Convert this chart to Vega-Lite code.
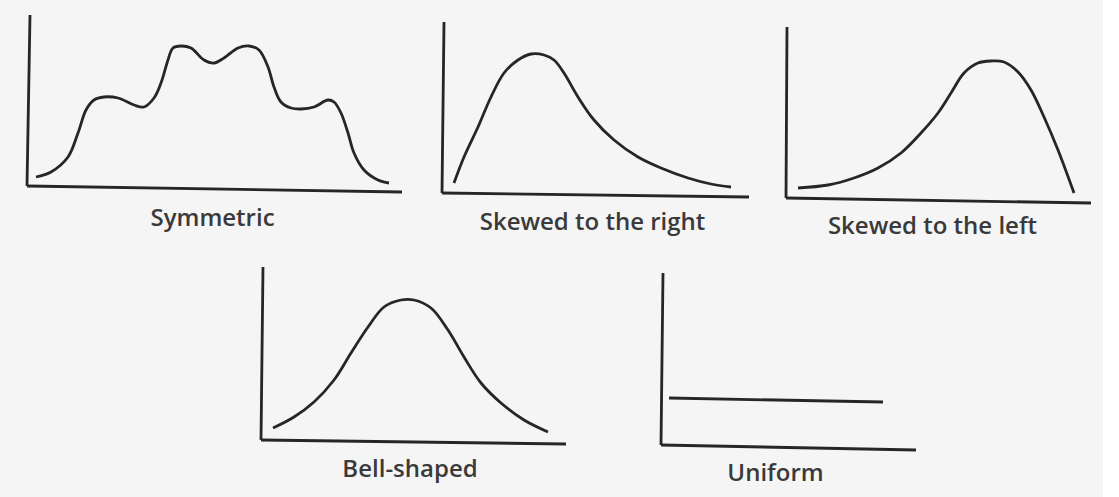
{
  "$schema": "https://vega.github.io/schema/vega-lite/v6.json",
  "background": "#f5f5f5",
  "padding": {"left": 25, "top": 12, "right": 10, "bottom": 15},
  "spacing": 24,
  "config": {
    "view": {"stroke": null},
    "axis": {"domain": false, "ticks": false, "labels": false, "grid": false, "titleFont": "Open Sans", "titleFontSize": 24, "titleFontWeight": 600, "titleColor": "#3a3a3a"}
  },
  "datasets": {
    "symAxes": [{"x": 1, "y": 18, "x2": 4, "y2": 189}, {"x": 1, "y": 18, "x2": 376, "y2": 12}],
    "sym": [
      {"x": 10, "y": 27}, {"x": 25, "y": 32}, {"x": 42, "y": 47}, {"x": 52, "y": 71}, {"x": 60, "y": 94}, {"x": 68, "y": 104}, {"x": 78, "y": 107}, {"x": 92, "y": 106}, {"x": 108, "y": 99}, {"x": 118, "y": 97}, {"x": 128, "y": 106}, {"x": 135, "y": 121}, {"x": 142, "y": 144}, {"x": 147, "y": 156}, {"x": 155, "y": 158}, {"x": 165, "y": 156}, {"x": 178, "y": 144}, {"x": 188, "y": 141}, {"x": 198, "y": 146}, {"x": 212, "y": 156}, {"x": 223, "y": 158}, {"x": 233, "y": 154}, {"x": 242, "y": 137}, {"x": 248, "y": 117}, {"x": 255, "y": 102}, {"x": 265, "y": 96}, {"x": 275, "y": 95}, {"x": 288, "y": 97}, {"x": 302, "y": 104}, {"x": 308, "y": 102}, {"x": 315, "y": 91}, {"x": 322, "y": 71}, {"x": 328, "y": 51}, {"x": 338, "y": 34}, {"x": 352, "y": 24}, {"x": 363, "y": 21}
    ],
    "rightAxes": [{"x": 0, "y": 11, "x2": 2, "y2": 182}, {"x": 0, "y": 11, "x2": 307, "y2": 7}],
    "right": [
      {"x": 12, "y": 21}, {"x": 22, "y": 47}, {"x": 36, "y": 77}, {"x": 49, "y": 107}, {"x": 62, "y": 131}, {"x": 76, "y": 144}, {"x": 89, "y": 150}, {"x": 102, "y": 149}, {"x": 112, "y": 144}, {"x": 122, "y": 131}, {"x": 136, "y": 107}, {"x": 152, "y": 84}, {"x": 172, "y": 64}, {"x": 196, "y": 47}, {"x": 219, "y": 36}, {"x": 246, "y": 26}, {"x": 269, "y": 20}, {"x": 289, "y": 17}
    ],
    "leftAxes": [{"x": 0, "y": 6, "x2": 1, "y2": 177}, {"x": 0, "y": 6, "x2": 305, "y2": 1}],
    "left": [
      {"x": 12, "y": 16}, {"x": 42, "y": 19}, {"x": 68, "y": 26}, {"x": 92, "y": 36}, {"x": 115, "y": 51}, {"x": 135, "y": 71}, {"x": 152, "y": 91}, {"x": 165, "y": 111}, {"x": 178, "y": 131}, {"x": 192, "y": 141}, {"x": 205, "y": 143}, {"x": 218, "y": 142}, {"x": 232, "y": 132}, {"x": 245, "y": 114}, {"x": 258, "y": 87}, {"x": 272, "y": 54}, {"x": 288, "y": 11}
    ],
    "bellAxes": [{"x": 0, "y": 12, "x2": 2, "y2": 185}, {"x": 0, "y": 12, "x2": 305, "y2": 8}],
    "bell": [
      {"x": 12, "y": 24}, {"x": 33, "y": 35}, {"x": 53, "y": 50}, {"x": 73, "y": 72}, {"x": 90, "y": 99}, {"x": 107, "y": 125}, {"x": 123, "y": 145}, {"x": 140, "y": 152}, {"x": 153, "y": 152}, {"x": 170, "y": 144}, {"x": 187, "y": 122}, {"x": 203, "y": 95}, {"x": 220, "y": 69}, {"x": 240, "y": 49}, {"x": 263, "y": 32}, {"x": 287, "y": 20}
    ],
    "uniAxes": [{"x": 0, "y": 7, "x2": 2, "y2": 179}, {"x": 0, "y": 7, "x2": 255, "y2": 2}],
    "uni": [{"x": 8, "y": 54}, {"x": 222, "y": 50}]
  },
  "vconcat": [
    {
      "spacing": 37,
      "bounds": "flush",
      "hconcat": [
        {
          "width": 379, "height": 192,
          "encoding": {
            "x": {"field": "x", "type": "quantitative", "scale": {"domain": [0, 379], "nice": false, "zero": false}, "axis": {"title": "Symmetric", "titleX": 186, "titlePadding": 2}},
            "y": {"field": "y", "type": "quantitative", "scale": {"domain": [0, 192], "nice": false, "zero": false}, "axis": null}
          },
          "layer": [
            {"data": {"name": "symAxes"}, "mark": {"type": "rule", "strokeWidth": 2.8, "color": "#262626"}, "encoding": {"x2": {"field": "x2"}, "y2": {"field": "y2"}}},
            {"data": {"name": "sym"}, "mark": {"type": "line", "interpolate": "catmull-rom", "strokeWidth": 2.8, "color": "#262626"}, "encoding": {}}
          ]
        },
        {
          "width": 307, "height": 192,
          "encoding": {
            "x": {"field": "x", "type": "quantitative", "scale": {"domain": [0, 307], "nice": false, "zero": false}, "axis": {"title": "Skewed to the right", "titleX": 150, "titlePadding": 6}},
            "y": {"field": "y", "type": "quantitative", "scale": {"domain": [0, 192], "nice": false, "zero": false}, "axis": null}
          },
          "layer": [
            {"data": {"name": "rightAxes"}, "mark": {"type": "rule", "strokeWidth": 2.8, "color": "#262626"}, "encoding": {"x2": {"field": "x2"}, "y2": {"field": "y2"}}},
            {"data": {"name": "right"}, "mark": {"type": "line", "interpolate": "catmull-rom", "strokeWidth": 2.8, "color": "#262626"}, "encoding": {}}
          ]
        },
        {
          "width": 305, "height": 192,
          "encoding": {
            "x": {"field": "x", "type": "quantitative", "scale": {"domain": [0, 305], "nice": false, "zero": false}, "axis": {"title": "Skewed to the left", "titleX": 146, "titlePadding": 10}},
            "y": {"field": "y", "type": "quantitative", "scale": {"domain": [0, 192], "nice": false, "zero": false}, "axis": null}
          },
          "layer": [
            {"data": {"name": "leftAxes"}, "mark": {"type": "rule", "strokeWidth": 2.8, "color": "#262626"}, "encoding": {"x2": {"field": "x2"}, "y2": {"field": "y2"}}},
            {"data": {"name": "left"}, "mark": {"type": "line", "interpolate": "catmull-rom", "strokeWidth": 2.8, "color": "#262626"}, "encoding": {}}
          ]
        }
      ]
    },
    {
      "spacing": 40,
      "bounds": "flush",
      "hconcat": [
        {
          "width": 595, "height": 190,
          "encoding": {
            "x": {"field": "x", "type": "quantitative", "scale": {"domain": [-235, 360], "nice": false, "zero": false}, "axis": {"title": "Bell-shaped", "titleX": 383.5, "titlePadding": 5}},
            "y": {"field": "y", "type": "quantitative", "scale": {"domain": [0, 190], "nice": false, "zero": false}, "axis": null}
          },
          "layer": [
            {"data": {"name": "bellAxes"}, "mark": {"type": "rule", "strokeWidth": 2.8, "color": "#262626"}, "encoding": {"x2": {"field": "x2"}, "y2": {"field": "y2"}}},
            {"data": {"name": "bell"}, "mark": {"type": "line", "interpolate": "catmull-rom", "strokeWidth": 2.8, "color": "#262626"}, "encoding": {}}
          ]
        },
        {
          "width": 260, "height": 190,
          "encoding": {
            "x": {"field": "x", "type": "quantitative", "scale": {"domain": [0, 260], "nice": false, "zero": false}, "axis": {"title": "Uniform", "titleX": 114, "titlePadding": 9}},
            "y": {"field": "y", "type": "quantitative", "scale": {"domain": [0, 190], "nice": false, "zero": false}, "axis": null}
          },
          "layer": [
            {"data": {"name": "uniAxes"}, "mark": {"type": "rule", "strokeWidth": 2.8, "color": "#262626"}, "encoding": {"x2": {"field": "x2"}, "y2": {"field": "y2"}}},
            {"data": {"name": "uni"}, "mark": {"type": "line", "strokeWidth": 2.8, "color": "#262626"}, "encoding": {}}
          ]
        }
      ]
    }
  ]
}
